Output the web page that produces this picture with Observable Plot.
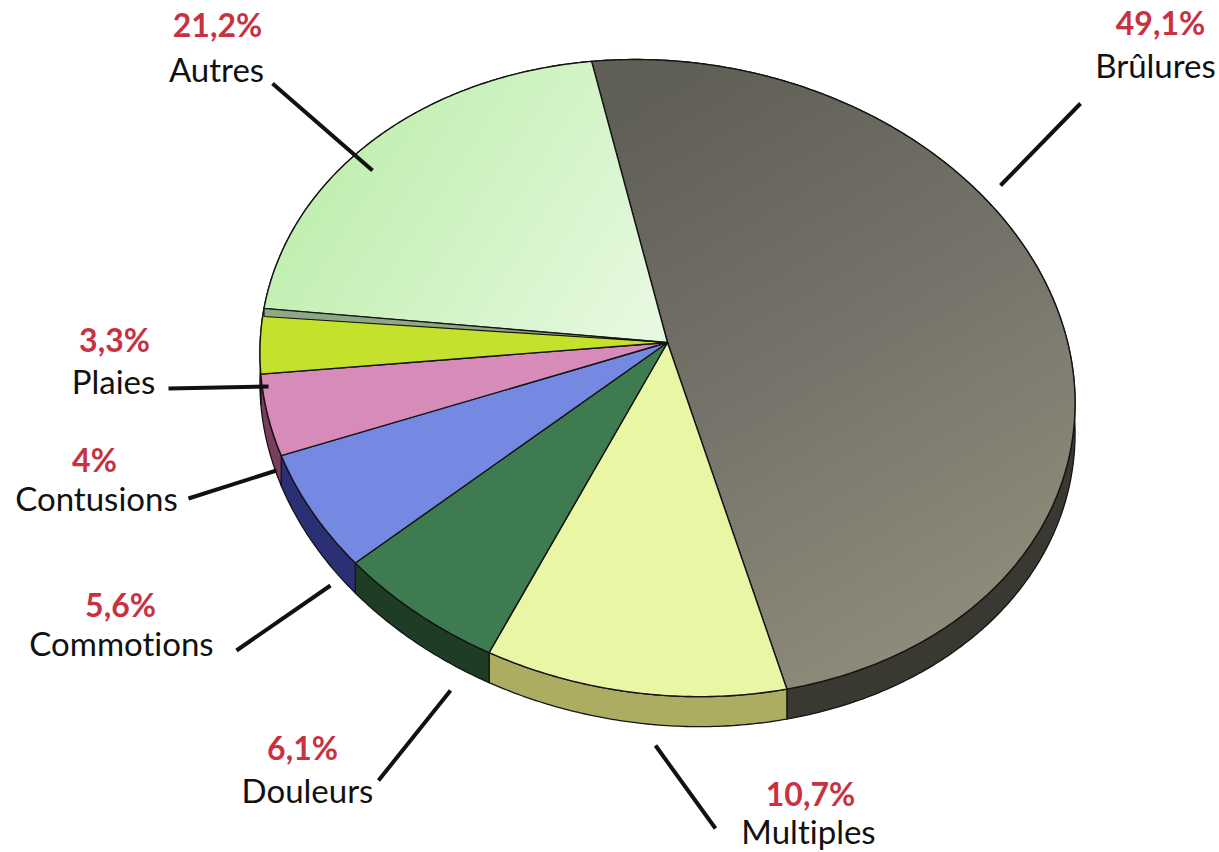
<!DOCTYPE html>
<html><head><meta charset="utf-8">
<script src="https://cdn.jsdelivr.net/npm/d3@7"></script>
<script src="https://cdn.jsdelivr.net/npm/@observablehq/plot@0.6"></script>
<style>body{margin:0;background:#fff} svg{display:block} svg text{font-variant-ligatures:none;font-feature-settings:"liga" 0}</style>
</head><body><div id="chart"></div>
<script>
// ---- data ----
const categories = ["Brûlures","Multiples","Douleurs","Commotions","Contusions","Plaies","Autres"];
const values = [49.1,10.7,6.1,5.6,4,3.3,21.2];
const valueLabels = ["49,1%","10,7%","6,1%","5,6%","4%","3,3%","21,2%"];

// ---- styles ----
const topColors = ["url(#gBrul)","#e9f6a4","#3f7b50","#7689e2","#d78bb8","#c4e12c","url(#gAutres)"];
const rimColors = ["#393931","#adad62","#1f3d25","#2b3075","#7a3d60","#6f8018","#7f9e74"];

// ---- layout ----
const W = 1219, H = 852;
const pie = {cx:667, cy:342, rx:405, ry:313.6, k:0.112, shear:0.0616, depth:30, start:-12};
const labelLayout = [
  {pct:[1160,34], name:[1155,77], line:[[1000,185],[1080,103]]},
  {pct:[810,805], name:[808,843], line:[[715,828],[655,745]]},
  {pct:[302,759], name:[307,802], line:[[378,780],[450,690]]},
  {pct:[120,616], name:[121,655], line:[[236,650],[330,585]]},
  {pct:[94,471],  name:[96,510],  line:[[188,498],[276,470]]},
  {pct:[114,351], name:[113,393], line:[[168,388],[268,386]]},
  {pct:[217,36],  name:[216,81],  line:[[272,83],[372,170]]}
];

function proj(a, r) { // a: radians clockwise from top
  const u = r*Math.sin(a), v = -r*Math.cos(a);
  const w = 1 - pie.k*v;
  const dx = pie.rx*u/w;
  return {x: pie.cx + dx, y: pie.cy + pie.ry*v/w + pie.shear*dx};
}
function arc(a0, a1) {
  const n = Math.max(2, Math.ceil(Math.abs(a1-a0)/(Math.PI/360)));
  return d3.range(n+1).map(i => proj(a0 + (a1-a0)*i/n, 1));
}

const s0 = pie.start*Math.PI/180;
const arcs = d3.pie().sort(null).startAngle(s0).endAngle(s0 + 2*Math.PI)(values);

const marks = [];
// rims
arcs.forEach((d,i) => {
  const top = arc(d.startAngle, d.endAngle);
  const bottom = top.map(p => ({x:p.x, y:p.y + pie.depth})).reverse();
  marks.push(Plot.line(top.concat(bottom), {x:"x", y:"y", fill: rimColors[i], stroke:"#141414", strokeWidth:1.3, curve:"linear-closed"}));
});
// top faces
arcs.forEach((d,i) => {
  const pts = [{x:pie.cx, y:pie.cy}].concat(arc(d.startAngle, d.endAngle));
  marks.push(Plot.line(pts, {x:"x", y:"y", fill: topColors[i], stroke:"#141414", strokeWidth:1.4, curve:"linear-closed"}));
});
// thin side wall below the "Autres" slice
{
  const a = arcs[6].startAngle;
  const p = proj(a, 1);
  const band = [{x:pie.cx, y:pie.cy}, p, {x:p.x, y:p.y + 8}];
  marks.push(Plot.line(band, {x:"x", y:"y", fill:"#8ea784", stroke:"#141414", strokeWidth:1.2, curve:"linear-closed"}));
}
// leader lines
const leaders = labelLayout.map((l,i) => ({x1:l.line[0][0], y1:l.line[0][1], x2:l.line[1][0], y2:l.line[1][1], cat:categories[i]}));
marks.push(Plot.link(leaders, {x1:"x1", y1:"y1", x2:"x2", y2:"y2", stroke:"#111", strokeWidth:4, strokeLinecap:"butt"}));
// labels
const labels = categories.map((c,i) => ({name:c, pct:valueLabels[i], px:labelLayout[i].pct[0], py:labelLayout[i].pct[1], nx:labelLayout[i].name[0], ny:labelLayout[i].name[1]}));
marks.push(Plot.text(labels, {x:"px", y:"py", text:"pct", fill:"#c8323f", fontSize:32, fontWeight:700, textAnchor:"middle", lineAnchor:"bottom"}));
marks.push(Plot.text(labels, {x:"nx", y:"ny", text:"name", fill:"#111", fontSize:33, textAnchor:"middle", lineAnchor:"bottom"}));

const svg = Plot.plot({
  width: W, height: H, margin: 0,
  style: {fontFamily: "Lato, 'Open Sans', sans-serif", background: "#fff"},
  x: {domain:[0,W], range:[0,W], axis:null},
  y: {domain:[0,H], range:[0,H], axis:null},
  marks
});
const defs = d3.select(svg).insert("defs", ":first-child");
const g1 = defs.append("linearGradient").attr("id","gBrul").attr("gradientUnits","userSpaceOnUse")
  .attr("x1",650).attr("y1",90).attr("x2",980).attr("y2",660);
g1.append("stop").attr("offset","0").attr("stop-color","#605f55");
g1.append("stop").attr("offset","0.5").attr("stop-color","#77756b");
g1.append("stop").attr("offset","1").attr("stop-color","#928e7c");
const g2 = defs.append("linearGradient").attr("id","gAutres").attr("gradientUnits","userSpaceOnUse")
  .attr("x1",300).attr("y1",120).attr("x2",640).attr("y2",340);
g2.append("stop").attr("offset","0").attr("stop-color","#bdedaa");
g2.append("stop").attr("offset","1").attr("stop-color","#e6f9e0");
document.getElementById("chart").appendChild(svg);
</script>
</body></html>
